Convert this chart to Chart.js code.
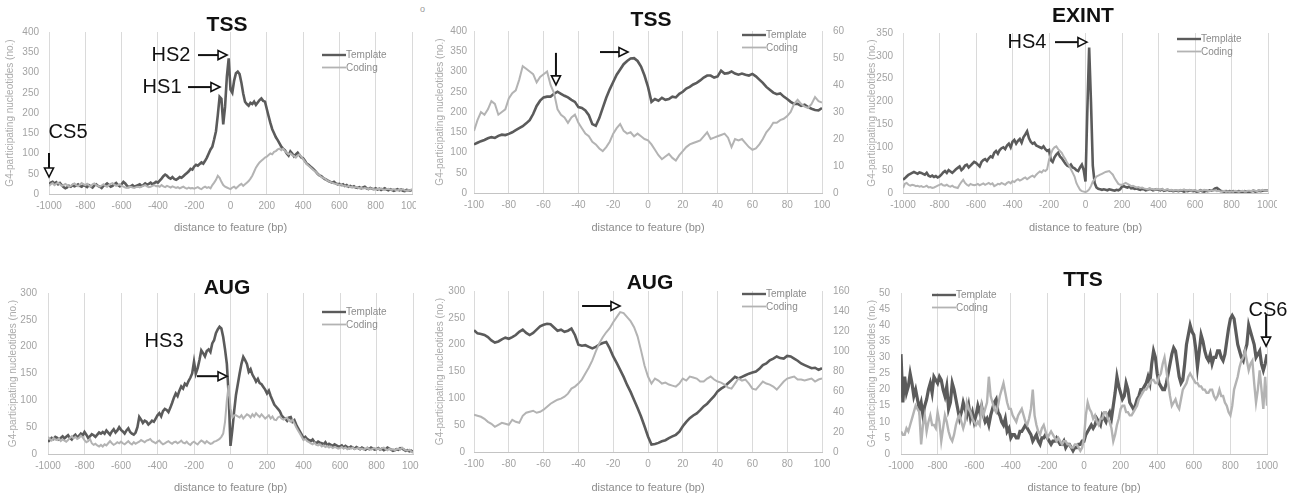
<!DOCTYPE html>
<html>
<head>
<meta charset="utf-8">
<script src="https://cdn.jsdelivr.net/npm/chart.js@4.4.1/dist/chart.umd.min.js"></script>
<style>
  html, body { margin: 0; padding: 0; background: #fff; }
  #fig { position: relative; width: 1300px; height: 496px; overflow: hidden; }
  .clip { position: absolute; overflow: hidden; }
  .box { position: absolute; left: 0; top: 0; }
  .dot { position: absolute; left: 420px; top: 4px; font: 9px 'Liberation Sans', sans-serif; color: #999; }
</style>
</head>
<body>
<div id="fig">
  <div class="clip" style="left:0;top:0;width:416px;height:245px"><div class="box" style="width:440px;height:237px"><canvas id="cTssWide"></canvas></div></div>
  <div class="clip" style="left:430px;top:0;width:440px;height:245px"><div class="box" style="width:440px;height:237px"><canvas id="cTssNarrow"></canvas></div></div>
  <div class="clip" style="left:860px;top:0;width:417px;height:245px"><div class="box" style="width:440px;height:237px"><canvas id="cExint"></canvas></div></div>
  <div class="clip" style="left:0;top:250px;width:419px;height:246px"><div class="box" style="width:440px;height:246px"><canvas id="cAugWide"></canvas></div></div>
  <div class="clip" style="left:430px;top:250px;width:440px;height:246px"><div class="box" style="width:440px;height:246px"><canvas id="cAugNarrow"></canvas></div></div>
  <div class="clip" style="left:860px;top:250px;width:440px;height:246px"><div class="box" style="width:440px;height:246px"><canvas id="cTts"></canvas></div></div>
  <div class="dot">o</div>
</div>
<script>
// x positions (bp) of the profile samples
const bpWide = [];
for (let v = -1000; v <= 1000; v += 10) bpWide.push(v);
const bpNarrow = [];
for (let v = -100; v <= 100; v += 2) bpNarrow.push(v);

const seriesNames = ['Template', 'Coding'];
const yTitle = 'G4-participating nucleotides (no.)';
const xTitle = 'distance to feature (bp)';

// TSS, -1000..1000
const tssWideTemplate = [
  24, 28, 30, 26, 29, 24, 27, 22, 17, 14,
  16, 20, 18, 22, 19, 21, 24, 20, 18, 22,
  20, 17, 22, 19, 16, 21, 24, 20, 18, 15,
  20, 22, 26, 22, 18, 20, 24, 27, 22, 19,
  24, 30, 26, 20, 17, 19, 22, 18, 20, 22,
  24, 20, 22, 26, 23, 25, 28, 24, 27, 30,
  28, 33, 38, 44, 48, 45, 40, 38, 42, 37,
  35, 38, 42, 40, 44, 48, 52, 56, 62, 60,
  68, 72, 70, 74, 78, 75, 82, 90, 100, 110,
  117, 135, 155, 195, 240, 235, 172, 215, 290, 335,
  258, 250, 280, 298, 302, 296, 275, 248, 228, 222,
  218, 225, 222, 228, 220, 226, 232, 236, 230, 228,
  210, 192, 175, 160, 150, 140, 133, 125, 117, 112,
  108, 100, 95, 105, 100, 93, 98, 102, 96, 90,
  88, 82, 75, 72, 68, 64, 60, 55, 50, 46,
  44, 40, 37, 35, 32, 30, 28, 30, 26, 24,
  25, 22, 24, 20, 22, 18, 20, 17, 19, 16,
  15, 17, 14, 16, 18, 14, 12, 15, 13, 12,
  14, 11, 13, 10, 12, 14, 11, 9, 12, 10,
  8, 10, 12, 9, 11, 8, 7, 10, 9, 8,
  10
];
const tssWideCoding = [
  20, 24, 27, 22, 25, 28, 24, 20, 22, 25,
  22, 18, 20, 24, 26, 22, 19, 23, 27, 24,
  22, 25, 21, 18, 24, 26, 22, 20, 18, 21,
  24, 20, 18, 22, 25, 27, 23, 20, 22, 24,
  20, 18, 16, 15, 17, 18, 16, 15, 17, 18,
  16, 18, 20, 22, 19, 17, 18, 20, 22, 19,
  20, 18, 22, 19, 17, 20, 18, 16, 19, 17,
  15, 17, 14, 16, 18, 15, 13, 16, 14, 15,
  13, 15, 17, 14, 12, 16, 18, 15, 17, 14,
  22, 28, 35, 45, 40, 30, 22, 18, 16, 14,
  12, 16, 18, 14, 18, 22, 25, 20, 24, 28,
  32, 38, 45, 55, 65, 72, 78, 82, 86, 90,
  92, 96, 100, 98, 104, 106, 110, 112, 108, 112,
  106, 102, 98, 100, 96, 94, 90, 95, 98, 92,
  86, 80, 74, 70, 66, 62, 58, 55, 50, 46,
  42, 40, 38, 34, 32, 30, 28, 26, 25, 24,
  22, 24, 20, 21, 18, 20, 17, 18, 16, 17,
  16, 14, 16, 13, 15, 14, 12, 14, 13, 12,
  11, 13, 12, 14, 11, 10, 12, 13, 11, 10,
  12, 10, 9, 11, 10, 12, 9, 8, 10, 9,
  12
];

// TSS, -100..100 (coding on right axis)
const tssNarrowTemplate = [
  120, 124, 128, 131, 135, 138, 136, 141, 144, 143,
  146, 150, 155, 160, 165, 172, 180, 195, 215, 228,
  236, 238, 238, 245, 250, 245, 240, 236, 230, 225,
  212, 210, 204, 192, 170, 166, 185, 210, 235, 256,
  274, 292, 305, 318, 326, 332, 333, 326, 312, 290,
  262, 225, 232, 228, 235, 230, 232, 238, 236, 245,
  250, 258, 262, 268, 272, 278, 285, 290, 290, 285,
  288, 302, 295, 296, 300, 295, 292, 295, 292, 290,
  294, 288, 280, 272, 262, 255, 248, 244, 246, 238,
  232, 225, 220, 220, 215, 218, 212, 208, 205, 204,
  210
];
const tssNarrowCoding = [
  23, 27, 30, 29, 31, 34, 33, 29, 30, 31,
  35, 37, 38, 42, 47, 46, 45, 44, 41, 43,
  44, 45, 40, 37, 31, 29, 28, 26, 28, 29,
  26, 24, 22, 21, 19, 18, 16.5, 15.5, 17, 19,
  22, 24, 25.5, 23, 22, 22.5, 21, 22, 21, 20,
  19.5, 18, 16, 14, 12.5, 13.5, 14.5, 13, 12, 14,
  15.5, 17, 18, 18.5, 19, 19.5, 21, 22.5, 20, 20.5,
  21, 21.5, 22, 20.5, 17, 20, 19.5, 20, 18.5, 17,
  16, 16.5, 18, 20, 22.5, 24, 26, 26, 27, 27.5,
  28.5, 30, 33, 34.5, 33, 32, 31.5, 33, 35.5, 34,
  33.5
];

// EXINT, -1000..1000
const exintTemplate = [
  29, 32, 36, 40, 42, 44, 46, 44, 42, 45,
  44, 42, 40, 44, 38, 36, 38, 35, 37, 34,
  36, 40, 45, 48, 44, 50, 47, 44, 48, 52,
  55, 58, 50, 54, 60, 62, 56, 60, 64, 68,
  66, 62, 58, 68, 72, 74, 70, 76, 80, 78,
  88, 92, 86, 94, 98, 100, 96, 104, 108, 100,
  112, 116, 108, 114, 118, 110, 122, 128, 135, 120,
  112, 108, 110, 104, 102, 100, 98, 102, 96, 92,
  94, 72, 68, 78, 84, 88, 80, 76, 70, 64,
  60, 58, 62, 56, 54, 50, 48, 56, 62, 50,
  25, 180, 318, 200, 60, 22, 12, 9, 8, 7,
  8, 7, 6, 8, 7, 6, 5, 7, 6, 8,
  14, 15, 13, 12, 14, 10, 11, 9, 10, 8,
  7, 9, 8, 6, 7, 9, 8, 6, 7, 8,
  7, 6, 8, 5, 6, 7, 5, 6, 4, 5,
  5, 4, 6, 5, 3, 5, 4, 6, 5, 4,
  5, 3, 4, 6, 4, 3, 5, 4, 6, 5,
  7, 10, 11, 8, 5, 4, 3, 4, 3, 4,
  3, 4, 2, 3, 4, 3, 2, 4, 3, 2,
  3, 4, 5, 3, 4, 5, 4, 5, 6, 5,
  6
];
const exintCoding = [
  11, 20, 22, 18, 16, 18, 17, 15, 16, 14,
  15, 13, 14, 16, 12, 13, 11, 12, 14, 16,
  18, 20, 17, 16, 18, 15, 14, 16, 13, 12,
  11, 18, 24, 29, 22, 18, 16, 20, 18, 17,
  18, 20, 17, 19, 21, 18, 20, 22, 19, 21,
  15, 17, 20, 19, 22, 20, 18, 22, 24, 21,
  26, 24, 28, 30, 27, 29, 32, 34, 30, 33,
  36, 38, 35, 40, 44, 47, 45, 50, 48, 52,
  73, 85, 95, 100, 102, 96, 92, 88, 80, 74,
  66, 60, 52, 44, 36, 22, 14, 7, 4, 3,
  2, 4, 8, 15, 25, 30, 36, 38, 40, 42,
  44, 46, 47, 48, 44, 40, 32, 26, 20, 18,
  18, 20, 22, 20, 18, 15, 16, 14, 12, 13,
  11, 12, 10, 9, 8, 10, 9, 8, 7, 9,
  8, 7, 9, 6, 7, 8, 6, 7, 5, 6,
  6, 5, 7, 6, 8, 5, 6, 7, 5, 6,
  6, 5, 4, 6, 5, 7, 6, 5, 4, 6,
  5, 6, 4, 5, 3, 4, 5, 3, 4, 3,
  4, 3, 5, 4, 3, 4, 5, 4, 3, 5,
  5, 4, 6, 5, 4, 6, 5, 7, 6, 5,
  6
];

// AUG, -1000..1000
const augWideTemplate = [
  23, 26, 30, 28, 32, 30, 27, 30, 33, 29,
  32, 35, 30, 27, 33, 36, 31, 34, 38, 35,
  41, 36, 30, 33, 37, 35, 32, 36, 40, 38,
  41, 38, 44, 40, 36, 42, 46, 40, 44, 50,
  45, 42, 38, 44, 48, 41, 38, 36, 40, 50,
  69, 64, 58, 62, 60, 55, 58, 62, 60, 66,
  72, 76, 70, 80, 84, 82, 78, 86, 95, 105,
  113, 108, 118, 126, 122, 131, 128, 136, 142, 150,
  172, 150, 160, 175, 193, 188, 182, 192, 195, 190,
  206, 212, 225, 232, 237, 234, 218, 195, 168, 110,
  15, 45, 80, 110, 130, 150, 168, 181, 175, 168,
  153, 158, 148, 142, 135, 140, 132, 130, 125, 120,
  113, 118, 108, 100, 92, 88, 84, 80, 72, 68,
  66, 62, 68, 69, 60, 63, 55, 48, 42, 36,
  29, 32, 28, 26, 24, 27, 22, 20, 23, 21,
  20, 18, 22, 16, 19, 17, 15, 18, 16, 14,
  14, 16, 12, 15, 13, 11, 14, 12, 10, 13,
  11, 9, 12, 10, 8, 11, 9, 12, 10, 8,
  9, 11, 8, 10, 7, 9, 12, 10, 8, 6,
  7, 9, 8, 11, 10, 8, 6, 7, 5, 6,
  4
];
const augWideCoding = [
  32, 28, 25, 30, 27, 26, 29, 24, 27, 25,
  23, 26, 30, 33, 29, 32, 28, 30, 34, 31,
  26, 22, 24, 28, 20, 17, 19, 16, 14, 17,
  14, 18, 16, 20, 24, 20, 17, 19, 22, 20,
  23, 20, 18, 21, 24, 20, 18, 22, 19, 21,
  23, 26, 24, 22, 25, 26, 28, 24, 22, 20,
  23, 25, 21, 18, 20, 22, 24, 21, 19, 22,
  23, 20, 22, 25, 21, 20, 23, 19, 17, 21,
  23, 20, 18, 22, 25, 23, 20, 24, 21, 19,
  20, 23, 24, 26, 28, 32, 38, 60, 100, 128,
  85, 68, 72, 72, 70, 68, 72, 66, 70, 74,
  72, 68, 74, 70, 76, 72, 69, 74, 70, 66,
  69, 72, 66, 70, 64, 63, 68, 70, 66, 64,
  66, 68, 62, 60, 64, 57, 50, 44, 38, 32,
  26, 28, 24, 22, 20, 18, 21, 17, 16, 18,
  14, 16, 13, 15, 12, 14, 11, 13, 12, 10,
  11, 13, 10, 12, 9, 11, 10, 12, 9, 10,
  11, 9, 10, 8, 10, 12, 9, 8, 10, 11,
  9, 10, 8, 11, 12, 9, 7, 10, 8, 9,
  7, 9, 10, 8, 12, 9, 7, 6, 8, 5,
  2
];

// AUG, -100..100 (coding on right axis)
const augNarrowTemplate = [
  227, 221, 220, 218, 214, 208, 204, 206, 210, 213,
  211, 214, 218, 224, 228, 222, 218, 222, 228, 234,
  237, 239, 238, 232, 226, 228, 224, 226, 230, 218,
  200, 198, 199, 196, 193, 196, 200, 203, 205, 193,
  178, 166, 153, 140, 125, 112, 97, 82, 66, 48,
  29, 14, 15, 17, 20, 22, 26, 29, 32, 38,
  48, 56, 63, 68, 72, 78, 85, 90, 97, 104,
  113, 118, 122, 128, 134, 140, 137, 140, 143, 146,
  148, 150, 155, 162, 165, 171, 174, 178, 175, 174,
  179, 178, 174, 170, 165, 162, 159, 156, 157, 153,
  156
];
const augNarrowCoding = [
  37, 36, 35, 33, 30, 28, 25, 27, 29, 28,
  27, 32, 30, 29, 36, 39, 40, 41, 39, 40,
  42, 45, 48, 50, 52, 53, 55, 58, 63, 65,
  68, 72, 78, 84, 91, 100, 108, 114, 119, 123,
  129, 134, 139, 138, 134, 130, 124, 115, 101, 86,
  75, 68, 73, 71, 68, 69, 67, 66, 65, 68,
  73, 71, 75, 74, 73, 70, 70, 73, 75, 72,
  70, 69, 67, 64, 63, 68, 73, 71, 72, 68,
  63, 62, 66, 70, 68, 67, 65, 62, 66, 70,
  73, 74, 75, 72, 72, 71, 72, 73, 70, 72,
  73
];

// TTS, -1000..1000
const ttsTemplate = [
  31, 16, 24, 19, 21, 25, 22, 18, 20, 17,
  14, 16, 12, 15, 17, 20, 22, 19, 24, 23,
  22, 24, 23, 20, 18, 21, 14, 16, 22, 20,
  17, 14, 11, 13, 16, 14, 12, 15, 11, 13,
  10, 12, 15, 13, 15, 12, 10, 11, 9, 12,
  14, 16, 17, 13, 12, 10, 9, 11, 7, 8,
  5, 6, 6, 5, 5, 7, 7, 8, 9, 8,
  7, 6, 4, 5, 6, 4, 3, 5, 5, 6,
  5, 4, 3, 4, 4, 5, 4, 3, 3, 4,
  2, 3, 3, 2, 1, 2, 2, 3, 3, 4,
  4, 6, 7, 8, 9, 8, 9, 11, 10, 9,
  12, 11, 10, 12, 13, 11, 15, 19, 24, 21,
  19, 17, 18, 22, 20, 16, 15, 14, 15, 17,
  18, 20, 20, 21, 22, 24, 22, 28, 32, 30,
  25, 22, 21, 20, 20, 22, 25, 28, 31, 33,
  32, 28, 24, 22, 23, 28, 34, 37, 40, 38,
  37, 33, 27, 32, 37, 35, 32, 30, 29, 31,
  28, 30, 30, 32, 32, 30, 29, 31, 35, 39,
  42, 43, 42, 38, 34, 32, 30, 29, 32, 34,
  40, 38, 36, 34, 30, 31, 32, 28, 26, 28,
  31
];
const ttsCoding = [
  7, 6, 6, 8, 7, 9, 11, 13, 15, 14,
  13, 3, 9, 12, 7, 10, 12, 9, 9, 8,
  13, 10, 4, 8, 12, 10, 7, 5, 4, 6,
  9, 11, 12, 10, 8, 10, 16, 14, 13, 11,
  10, 9, 10, 9, 15, 12, 14, 16, 24, 18,
  16, 14, 13, 15, 18, 20, 22, 19, 16, 14,
  14, 12, 11, 10, 12, 13, 14, 12, 10, 9,
  11, 14, 20, 12, 9, 7, 6, 8, 9, 7,
  5, 6, 7, 6, 5, 4, 5, 4, 3, 4,
  4, 3, 3, 2, 2, 3, 3, 2, 1, 2,
  5, 12, 16, 14, 13, 11, 12, 10, 9, 11,
  11, 13, 13, 11, 10, 8, 4, 6, 9, 11,
  14, 15, 15, 13, 13, 12, 12, 13, 14, 15,
  17, 18, 19, 20, 20, 21, 22, 23, 23, 22,
  22, 24, 25, 28, 30, 26, 22, 18, 15, 16,
  17, 15, 14, 17, 20, 21, 22, 24, 25, 24,
  23, 22, 22, 21, 21, 20, 20, 19, 19, 20,
  20, 18, 17, 18, 20, 18, 18, 16, 15, 13,
  12, 15, 20, 22, 24, 27, 29, 30, 32, 29,
  26, 28, 29, 22, 16, 20, 26, 20, 14, 24,
  15
];

const DARK = '#5b5b5b';
const LIGHT = '#b3b3b3';
const GRID = '#dadada';
const TICK = '#a3a3a3';
const NARROW = "'Liberation Sans Narrow', 'Liberation Sans', Arial, sans-serif";
const SANS = "'Liberation Sans', Arial, sans-serif";
const seriesColors = [DARK, LIGHT];

function drawArrow(ctx, x0, y0, x1, y1) {
  const len = Math.hypot(x1 - x0, y1 - y0);
  const ux = (x1 - x0) / len, uy = (y1 - y0) / len;
  const head = 9, half = 4.5;
  const bx = x1 - ux * head, by = y1 - uy * head;
  ctx.strokeStyle = '#111';
  ctx.lineWidth = 2;
  ctx.beginPath();
  ctx.moveTo(x0, y0);
  ctx.lineTo(bx, by);
  ctx.stroke();
  ctx.lineWidth = 1.6;
  ctx.fillStyle = '#fff';
  ctx.beginPath();
  ctx.moveTo(x1, y1);
  ctx.lineTo(bx - uy * half, by + ux * half);
  ctx.lineTo(bx + uy * half, by - ux * half);
  ctx.closePath();
  ctx.fill();
  ctx.stroke();
}

// panel title, inset legend, HS/CS labels and arrows
const annotate = {
  id: 'annotate',
  afterDraw(chart, args, opts) {
    const { ctx } = chart;
    const xs = chart.scales.x, ys = chart.scales.y;
    ctx.save();
    ctx.textBaseline = 'middle';

    ctx.fillStyle = '#111';
    ctx.font = `bold 21px ${SANS}`;
    ctx.textAlign = 'center';
    ctx.fillText(opts.title, opts.titleAt[0], opts.titleAt[1]);

    const [lx, ly] = opts.legendAt;
    seriesNames.forEach((name, i) => {
      const yy = ly + i * 12.5;
      ctx.strokeStyle = seriesColors[i];
      ctx.lineWidth = i === 0 ? 2.4 : 1.8;
      ctx.beginPath();
      ctx.moveTo(lx, yy);
      ctx.lineTo(lx + 24, yy);
      ctx.stroke();
      ctx.fillStyle = '#8c8c8c';
      ctx.font = `10px ${SANS}`;
      ctx.textAlign = 'left';
      ctx.fillText(name, lx + 24, yy + 0.5);
    });

    ctx.fillStyle = '#111';
    ctx.font = `20px ${SANS}`;
    ctx.textAlign = 'center';
    (opts.labels || []).forEach(l => {
      ctx.fillText(l.text, xs.getPixelForValue(l.x), ys.getPixelForValue(l.y));
    });
    (opts.arrows || []).forEach(a => {
      drawArrow(ctx, xs.getPixelForValue(a.x0), ys.getPixelForValue(a.y0),
                     xs.getPixelForValue(a.x1), ys.getPixelForValue(a.y1));
    });
    ctx.restore();
  },
};

function buildPanel(id, p) {
  const tickFont = { family: NARROW, size: 10 };
  const lineW = p.lineWidths || [2.6, 2];
  const scales = {
    x: {
      type: 'linear', min: p.xMin, max: p.xMax,
      ticks: { stepSize: p.xStep, color: TICK, font: tickFont, padding: 6, maxRotation: 0, autoSkip: false, callback: v => String(v) },
      grid: { color: GRID, drawTicks: false },
      border: { color: '#c4c4c4' },
      title: { display: true, text: xTitle, color: '#8c8c8c', font: { family: NARROW, size: 11 }, padding: { top: 0, bottom: p.xTitlePad } },
      afterFit: s => { s.height = p.xh; },
    },
    y: {
      min: 0, max: p.yMax,
      ticks: { stepSize: p.yStep, color: TICK, font: tickFont, padding: p.yTickPad, callback: v => String(v) },
      grid: { display: false, drawTicks: false },
      border: { display: false },
      title: { display: true, text: yTitle, color: '#ababab', font: { family: NARROW, size: 10 }, padding: { top: p.yTitlePad, bottom: 0 } },
      afterFit: s => { s.width = p.yw; },
    },
  };
  if (p.y2Max) {
    scales.y2 = {
      position: 'right', min: 0, max: p.y2Max,
      ticks: { stepSize: p.y2Step, color: TICK, font: tickFont, padding: 11, callback: v => String(v) },
      grid: { display: false, drawTicks: false },
      border: { display: false },
      afterFit: s => { s.width = 48; },
    };
  }

  return new Chart(document.getElementById(id), {
    type: 'line',
    data: {
      labels: p.positions,
      datasets: [
        { label: seriesNames[0], data: p.template, borderColor: DARK, borderWidth: lineW[0], pointRadius: 0, tension: 0, yAxisID: 'y', order: 2 },
        { label: seriesNames[1], data: p.coding, borderColor: LIGHT, borderWidth: lineW[1], pointRadius: 0, tension: 0, yAxisID: p.y2Max ? 'y2' : 'y', order: 1 },
      ],
    },
    options: {
      responsive: true, maintainAspectRatio: false, animation: false, devicePixelRatio: 1, events: [],
      layout: { padding: { left: 0, top: p.top, right: p.right, bottom: 0 } },
      scales,
      plugins: {
        legend: { display: false },
        tooltip: { enabled: false },
        annotate: { title: p.title, titleAt: p.titleAt, legendAt: p.legendAt, labels: p.labels, arrows: p.arrows },
      },
    },
    plugins: [annotate],
  });
}

buildPanel('cTssWide', {
  positions: bpWide, template: tssWideTemplate, coding: tssWideCoding,
  xMin: -1000, xMax: 1000, xStep: 200, yMax: 400, yStep: 50,
  top: 32, right: 28, yw: 49, xh: 43, yTickPad: 10, yTitlePad: 4, xTitlePad: 2.5,
  title: 'TSS', titleAt: [227, 25], legendAt: [322, 55],
  labels: [
    { text: 'HS2', x: -328, y: 343 },
    { text: 'HS1', x: -377, y: 264 },
    { text: 'CS5', x: -895, y: 153 },
  ],
  arrows: [
    { x0: -179, y0: 343, x1: -19, y1: 343 },
    { x0: -234, y0: 264, x1: -58, y1: 264 },
    { x0: -1000, y0: 101, x1: -1000, y1: 42 },
  ],
});

buildPanel('cTssNarrow', {
  positions: bpNarrow, template: tssNarrowTemplate, coding: tssNarrowCoding,
  xMin: -100, xMax: 100, xStep: 20, yMax: 400, yStep: 50, y2Max: 60, y2Step: 10,
  top: 31, right: 0, yw: 44, xh: 44, yTickPad: 7, yTitlePad: 4, xTitlePad: 2.5,
  title: 'TSS', titleAt: [221, 20], legendAt: [312, 35],
  arrows: [
    { x0: -52.9, y0: 346, x1: -52.9, y1: 267 },
    { x0: -27.6, y0: 348, x1: -11.5, y1: 348 },
  ],
});

buildPanel('cExint', {
  positions: bpWide, template: exintTemplate, coding: exintCoding,
  xMin: -1000, xMax: 1000, xStep: 200, yMax: 350, yStep: 50,
  top: 33, right: 32, yw: 43, xh: 44, yTickPad: 10, yTitlePad: 6, xTitlePad: 2.5,
  title: 'EXINT', titleAt: [223, 16], legendAt: [317, 39],
  labels: [{ text: 'HS4', x: -321, y: 330 }],
  arrows: [{ x0: -167, y0: 330, x1: 8, y1: 330 }],
});

buildPanel('cAugWide', {
  positions: bpWide, template: augWideTemplate, coding: augWideCoding,
  xMin: -1000, xMax: 1000, xStep: 200, yMax: 300, yStep: 50,
  top: 43, right: 27, yw: 48, xh: 42, yTickPad: 11, yTitlePad: 7, xTitlePad: 1.5,
  title: 'AUG', titleAt: [227, 38], legendAt: [322, 62],
  labels: [{ text: 'HS3', x: -364, y: 209 }],
  arrows: [{ x0: -184, y0: 145, x1: -19, y1: 145 }],
});

buildPanel('cAugNarrow', {
  positions: bpNarrow, template: augNarrowTemplate, coding: augNarrowCoding,
  xMin: -100, xMax: 100, xStep: 20, yMax: 300, yStep: 50, y2Max: 160, y2Step: 20,
  top: 41, right: 0, yw: 44, xh: 44, yTickPad: 9, yTitlePad: 4, xTitlePad: 1.5,
  title: 'AUG', titleAt: [220, 33], legendAt: [312, 44],
  arrows: [{ x0: -37.9, y0: 272, x1: -16.1, y1: 272 }],
});

buildPanel('cTts', {
  positions: bpWide, template: ttsTemplate, coding: ttsCoding,
  xMin: -1000, xMax: 1000, xStep: 200, yMax: 50, yStep: 5,
  top: 43, right: 33, yw: 41, xh: 42, yTickPad: 11, yTitlePad: 6, xTitlePad: 1.5,
  lineWidths: [3.2, 2.4],
  title: 'TTS', titleAt: [223, 30], legendAt: [72, 45],
  labels: [{ text: 'CS6', x: 1005, y: 44.7 }],
  arrows: [{ x0: 995, y0: 43.2, x1: 995, y1: 33.5 }],
});
</script>
</body>
</html>
